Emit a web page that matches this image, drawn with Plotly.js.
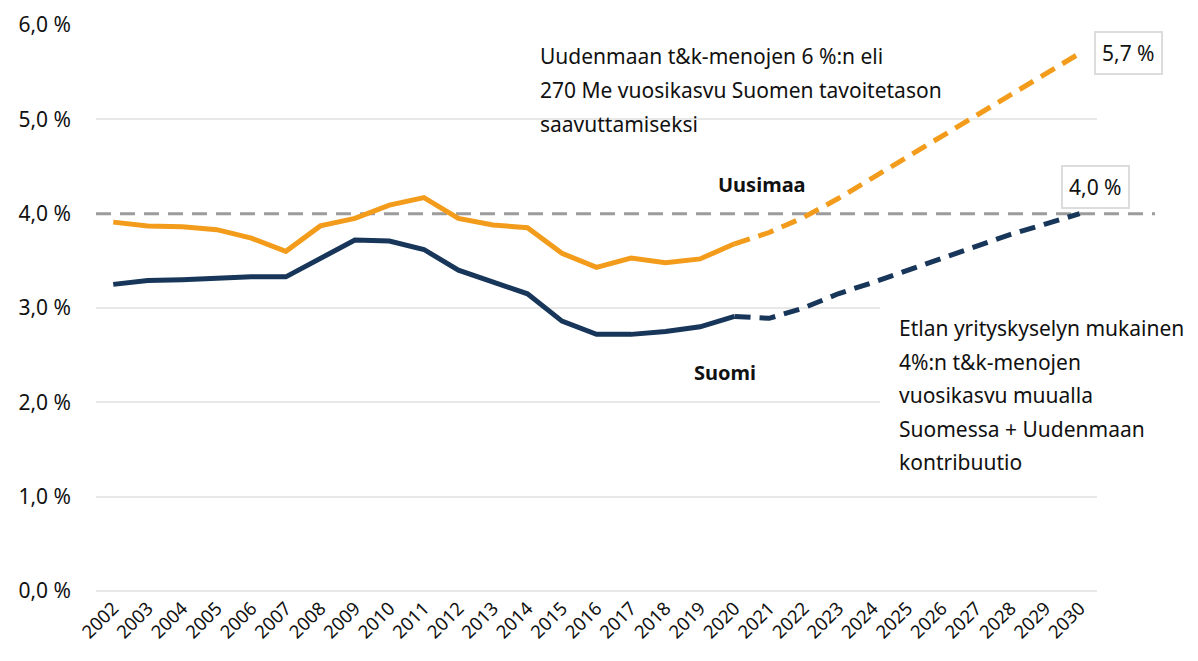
<!DOCTYPE html>
<html>
<head>
<meta charset="utf-8">
<script src="https://cdn.plot.ly/plotly-3.0.1.min.js"></script>
<style>html,body{margin:0;padding:0;background:#fff;}#chart{width:1198px;height:661px;}</style>
</head>
<body>
<div id="chart"></div>
<script>
// Data
const years = ["2002","2003","2004","2005","2006","2007","2008","2009","2010","2011","2012","2013","2014","2015","2016","2017","2018","2019","2020","2021","2022","2023","2024","2025","2026","2027","2028","2029","2030"];
const histYears = years.slice(0, 19);      // 2002-2020
const projYears = years.slice(18);         // 2020-2030
const uusimaaHist = [3.91,3.87,3.86,3.83,3.74,3.60,3.87,3.95,4.09,4.17,3.95,3.88,3.85,3.58,3.43,3.53,3.48,3.52,3.68];
const uusimaaProj = [3.68,3.80,3.96,4.16,4.38,4.60,4.82,5.04,5.27,5.49,5.70];
const suomiHist = [3.25,3.29,3.30,3.32,3.33,3.33,3.53,3.72,3.71,3.62,3.40,3.28,3.15,2.86,2.72,2.72,2.75,2.80,2.91];
const suomiProj = [2.91,2.89,3.00,3.15,3.27,3.40,3.53,3.66,3.78,3.89,4.00];
const yTickVals = [0,1,2,3,4,5,6];
const yTickText = ["0,0 %","1,0 %","2,0 %","3,0 %","4,0 %","5,0 %","6,0 %"];
const gridVals = [0,1,2,3,5,6];
const targetLevel = 4.0;
const topNote = ["Uudenmaan t&k-menojen 6 %:n eli","270 Me vuosikasvu Suomen tavoitetason","saavuttamiseksi"];
const bottomNote = ["Etlan yrityskyselyn mukainen","4%:n t&k-menojen","vuosikasvu muualla","Suomessa + Uudenmaan","kontribuutio"];
const endLabelU = "5,7 %";
const endLabelS = "4,0 %";

const ORANGE = "#F39C1B";
const NAVY = "#17365A";
const FONT = "Noto Sans, sans-serif";

const lastIdx = years.length - 1;

const traces = [
  // empty trace so that the grid-only overlay axis is drawn
  {x: [], y: [], type: "scatter", mode: "lines", yaxis: "y2", hoverinfo: "skip"},
  {x: histYears, y: uusimaaHist, type: "scatter", mode: "lines", line: {color: ORANGE, width: 5}, hoverinfo: "skip"},
  {x: projYears, y: uusimaaProj, type: "scatter", mode: "lines", line: {color: ORANGE, width: 5, dash: "16px,9px"}, hoverinfo: "skip"},
  {x: histYears, y: suomiHist, type: "scatter", mode: "lines", line: {color: NAVY, width: 5}, hoverinfo: "skip"},
  {x: projYears, y: suomiProj, type: "scatter", mode: "lines", line: {color: NAVY, width: 5, dash: "16px,9px"}, hoverinfo: "skip"}
];

// pixel helpers for paper coords
const L = 96, R = 101, T = 25, B = 68, W = 1198, H = 661;
const px = v => (v - L) / (W - L - R);
const py = v => (H - B - v) / (H - T - B);
const yRange = [-0.022, 6];

const annotations = [];
topNote.forEach((t, i) => {
  annotations.push({xref: "paper", yref: "paper", x: px(538), y: py(56 + i * 34), xanchor: "left", yanchor: "middle",
    text: t, showarrow: false, font: {family: FONT, size: 21, color: "#111"}});
});
bottomNote.forEach((t, i) => {
  annotations.push({xref: "paper", yref: "paper", x: px(897), y: py(328 + i * 33.5), xanchor: "left", yanchor: "middle",
    text: t, showarrow: false, font: {family: FONT, size: 21, color: "#111"}});
});
annotations.push({xref: "paper", yref: "paper", x: px(762), y: py(185), xanchor: "center", yanchor: "middle",
  text: "<b>Uusimaa</b>", showarrow: false, font: {family: FONT, size: 20, color: "#111"}});
annotations.push({xref: "paper", yref: "paper", x: px(725), y: py(372), xanchor: "center", yanchor: "middle",
  text: "<b>Suomi</b>", showarrow: false, font: {family: FONT, size: 20, color: "#111"}});
annotations.push({x: lastIdx, y: uusimaaProj[uusimaaProj.length - 1], xref: "x", yref: "y", xshift: 49, yshift: 0,
  text: endLabelU, showarrow: false, font: {family: FONT, size: 21, color: "#111"},
  bgcolor: "#fff", bordercolor: "#dcdcdc", borderwidth: 2, borderpad: 6});
annotations.push({x: lastIdx, y: suomiProj[suomiProj.length - 1], xref: "x", yref: "y", xshift: 16, yshift: 27,
  text: endLabelS, showarrow: false, font: {family: FONT, size: 21, color: "#111"},
  bgcolor: "#fff", bordercolor: "#dcdcdc", borderwidth: 2, borderpad: 6});

const shapes = [
  {type: "rect", layer: "above", xref: "paper", yref: "paper", x0: px(880), x1: 1.0, y0: py(480), y1: py(300),
    fillcolor: "#ffffff", line: {width: 0}},
  {type: "line", layer: "below", xref: "paper", yref: "y", x0: 0, x1: px(1155), y0: targetLevel, y1: targetLevel,
    line: {color: "#9c9c9c", width: 3, dash: "15px,9px"}}
];

const layout = {
  width: W, height: H,
  margin: {l: L, r: R, t: T, b: B, pad: 0},
  paper_bgcolor: "#fff", plot_bgcolor: "rgba(0,0,0,0)",
  showlegend: false,
  font: {family: FONT, color: "#111"},
  xaxis: {type: "category", range: [-0.5, 28.5], showgrid: false, zeroline: false, showline: false,
    tickangle: -45, tickfont: {family: FONT, size: 18.5, color: "#111"}, ticks: "", fixedrange: true},
  yaxis: {range: yRange, tickvals: yTickVals, ticktext: yTickText, showgrid: false,
    zeroline: false, showline: false, ticks: "", ticklabelstandoff: 24, tickfont: {family: FONT, size: 21, color: "#111"}, fixedrange: true},
  yaxis2: {range: yRange, overlaying: "y", anchor: "x", side: "left", tickvals: gridVals, showticklabels: false,
    showgrid: true, gridcolor: "#e8e8e8", gridwidth: 2, zeroline: false, showline: false, ticks: "", fixedrange: true},
  annotations: annotations,
  shapes: shapes
};

Plotly.newPlot("chart", traces, layout, {displayModeBar: false, staticPlot: true});
</script>
</body>
</html>
